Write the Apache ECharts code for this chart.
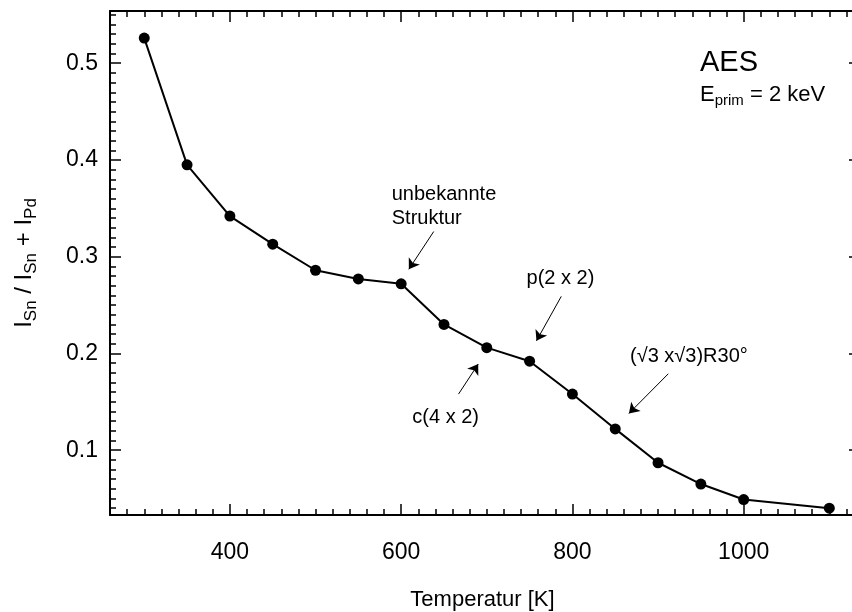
<!DOCTYPE html>
<html lang="de">
<head>
<meta charset="UTF-8">
<title>AES Sn/Pd</title>
<style>
  html, body { margin: 0; padding: 0; background: #fff; }
  #main { width: 852px; height: 612px; }
</style>
</head>
<body>
<div id="main"></div>
<script src="https://cdn.jsdelivr.net/npm/echarts@6/dist/echarts.min.js"></script>
<script>
// Messwerte
const temperatures = [300, 350, 400, 450, 500, 550, 600, 650, 700, 750, 800, 850, 900, 950, 1000, 1100];
const ratio = [0.526, 0.395, 0.342, 0.313, 0.286, 0.277, 0.272, 0.230, 0.206, 0.192, 0.158, 0.122, 0.087, 0.065, 0.049, 0.040];

// Achsen
const xMajor = [400, 600, 800, 1000];
const yMajor = [0.1, 0.2, 0.3, 0.4, 0.5];
const xMin = 260, xMax = 1130;
const yMin = 0.033, yMax = 0.554;

const xMinor = [];
for (let v = 280; v <= 1120; v += 20) xMinor.push(v);
const yMinor = [];
for (let v = 4; v <= 55; v++) yMinor.push(v / 100);

// Pfeile und Beschriftungen (Datenkoordinaten)
const arrows = [
    [[638, 0.326], [609, 0.287]],
    [[787, 0.259], [758, 0.213]],
    [[667, 0.158], [690, 0.189]],
    [[912, 0.179], [866, 0.138]]
];
const notes = [
    [786, 0.277, 'p(2 x 2)'],
    [652, 0.134, 'c(4 x 2)'],
    [936, 0.197, '(√3 x√3)R30°']
];

const FONT = '"Liberation Sans", Arial, sans-serif';

const chart = echarts.init(document.getElementById('main'));

function xAxisOf(pos, ticks, len, withLine, withLabel) {
    return {
        type: 'value', position: pos, min: xMin, max: xMax,
        axisLine: { show: withLine, lineStyle: { color: '#000', width: 2 } },
        axisTick: { show: true, inside: true, length: len, customValues: ticks, lineStyle: { color: '#000', width: 1.5 } },
        axisLabel: { show: withLabel, customValues: ticks, color: '#000', fontSize: 23, fontFamily: FONT, margin: 26,
                     formatter: v => String(v) },
        splitLine: { show: false }
    };
}
function yAxisOf(pos, ticks, len, withLine, withLabel) {
    return {
        type: 'value', position: pos, min: yMin, max: yMax,
        axisLine: { show: withLine, lineStyle: { color: '#000', width: 2 } },
        axisTick: { show: true, inside: true, length: len, customValues: ticks, lineStyle: { color: '#000', width: 1.5 } },
        axisLabel: { show: withLabel, customValues: ticks, color: '#000', fontSize: 23, fontFamily: FONT, margin: 12 },
        splitLine: { show: false }
    };
}

const xBottom = xAxisOf('bottom', xMajor, 11, true, true);
xBottom.name = 'Temperatur [K]';
xBottom.nameLocation = 'middle';
xBottom.nameGap = 74;
xBottom.nameTextStyle = { color: '#000', fontSize: 22, fontFamily: FONT };

const yLeft = yAxisOf('left', yMajor, 11, true, true);
yLeft.name = '{n|I}{s|Sn}{n| / I}{s|Sn}{n| + I}{s|Pd}';
yLeft.nameLocation = 'middle';
yLeft.nameGap = 70;
yLeft.nameTextStyle = {
    color: '#000', fontFamily: FONT,
    rich: {
        n: { fontSize: 24, lineHeight: 32, fontFamily: FONT, color: '#000' },
        s: { fontSize: 17, lineHeight: 32, fontFamily: FONT, color: '#000', verticalAlign: 'bottom', padding: [12, 0, 0, 0] }
    }
};

chart.setOption({
    animation: false,
    backgroundColor: '#fff',
    grid: { left: 110, top: 11, width: 745, height: 504, outerBoundsMode: 'none', containLabel: false },
    xAxis: [
        xBottom,
        xAxisOf('bottom', xMinor, 6, false, false),
        xAxisOf('top', xMajor, 11, true, false),
        xAxisOf('top', xMinor, 6, false, false)
    ],
    yAxis: [
        yLeft,
        yAxisOf('left', yMinor, 6, false, false),
        yAxisOf('right', yMajor, 6, false, false)
    ],
    graphic: [
        {
            type: 'text', left: 700, top: 48,
            style: { text: 'AES', fill: '#000', font: '29px ' + FONT }
        },
        {
            type: 'text', left: 700, top: 83,
            style: {
                text: '{n|E}{s|prim}{n| = 2 keV}',
                rich: {
                    n: { fontSize: 22, lineHeight: 27, fontFamily: FONT, fill: '#000' },
                    s: { fontSize: 15, lineHeight: 27, fontFamily: FONT, fill: '#000', verticalAlign: 'bottom', padding: [10, 0, 0, 0] }
                }
            }
        }
    ],
    series: [{
        type: 'line',
        data: temperatures.map((t, i) => [t, ratio[i]]),
        symbol: 'circle',
        symbolSize: 11,
        showAllSymbol: true,
        itemStyle: { color: '#000' },
        lineStyle: { color: '#000', width: 2 },
        markLine: {
            silent: true,
            symbol: ['none', 'arrow'],
            symbolSize: 10,
            lineStyle: { color: '#000', width: 1, type: 'solid' },
            label: { show: false },
            data: arrows.map(a => [{ coord: a[0] }, { coord: a[1] }])
        },
        markPoint: {
            silent: true,
            symbol: 'circle',
            symbolSize: 0,
            label: { show: true, position: 'inside', color: '#000', fontSize: 20, fontFamily: FONT },
            data: notes.map(n => ({ coord: [n[0], n[1]], value: n[2], label: { formatter: n[2] } })).concat([{
                coord: [589, 0.352], value: 'u',
                label: { position: 'right', distance: 0, align: 'left', formatter: 'unbekannte\nStruktur', lineHeight: 24 }
            }])
        }
    }]
});
</script>
</body>
</html>
